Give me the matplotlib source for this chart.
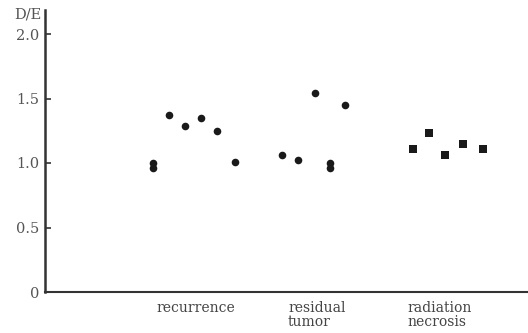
import matplotlib
matplotlib.use("Agg")
import matplotlib.pyplot as plt
from matplotlib.transforms import blended_transform_factory

# Data (x = horizontal position along the axis, y = D/E)
recurrence_x = [107.7, 107.7, 124.0, 140.0, 156.0, 172.0, 189.7]
recurrence_y = [1.00, 0.96, 1.37, 1.29, 1.35, 1.25, 1.01]
residual_x = [236.7, 253.0, 270.3, 285.3, 285.3, 300.3]
residual_y = [1.06, 1.02, 1.54, 1.00, 0.96, 1.45]
necrosis_x = [367.7, 384.3, 400.0, 418.0, 437.7]
necrosis_y = [1.11, 1.23, 1.06, 1.15, 1.11]

categories = ["recurrence", "residual\ntumor", "radiation\nnecrosis"]
category_x = [111.0, 243.0, 362.0]

yticks = [0, 0.5, 1.0, 1.5, 2.0]
yticklabels = ["0", "0.5", "1.0", "1.5", "2.0"]

plt.rcParams["font.family"] = ["DejaVu Serif"]

fig = plt.figure(figsize=(5.28, 3.33), dpi=100)
ax = fig.add_axes([45 / 528, 41 / 333, 483 / 528, 282 / 333])

ax.scatter(recurrence_x, recurrence_y, s=30, c="#1a1a1a", marker="o", linewidths=0, zorder=3)
ax.scatter(residual_x, residual_y, s=30, c="#1a1a1a", marker="o", linewidths=0, zorder=3)
ax.scatter(necrosis_x, necrosis_y, s=36, c="#1a1a1a", marker="s", linewidths=0, zorder=3)

ax.set_xlim(0, 483)
ax.set_ylim(0, 282 / 129)
ax.set_xticks([])
ax.set_yticks(yticks)
ax.set_yticklabels(yticklabels)
ax.tick_params(axis="y", direction="in", length=4, width=1.2, pad=4,
               labelsize=10.5, labelcolor="#555555", color="#333333")

for s in ["top", "right"]:
    ax.spines[s].set_visible(False)
ax.spines["left"].set_linewidth(1.8)
ax.spines["bottom"].set_linewidth(1.5)
ax.spines["left"].set_color("#333333")
ax.spines["bottom"].set_color("#333333")

trans = blended_transform_factory(ax.transData, ax.transAxes)
for cx, lab in zip(category_x, categories):
    ax.text(cx, -0.033, lab, transform=trans, ha="left", va="top",
            fontsize=10, color="#444444", linespacing=1.0)

fig.text(41 / 528, 1 - 15 / 333, "D/E", ha="right", va="center",
         fontsize=10.5, color="#555555")

fig.savefig("out.png", dpi=100, facecolor="white")
